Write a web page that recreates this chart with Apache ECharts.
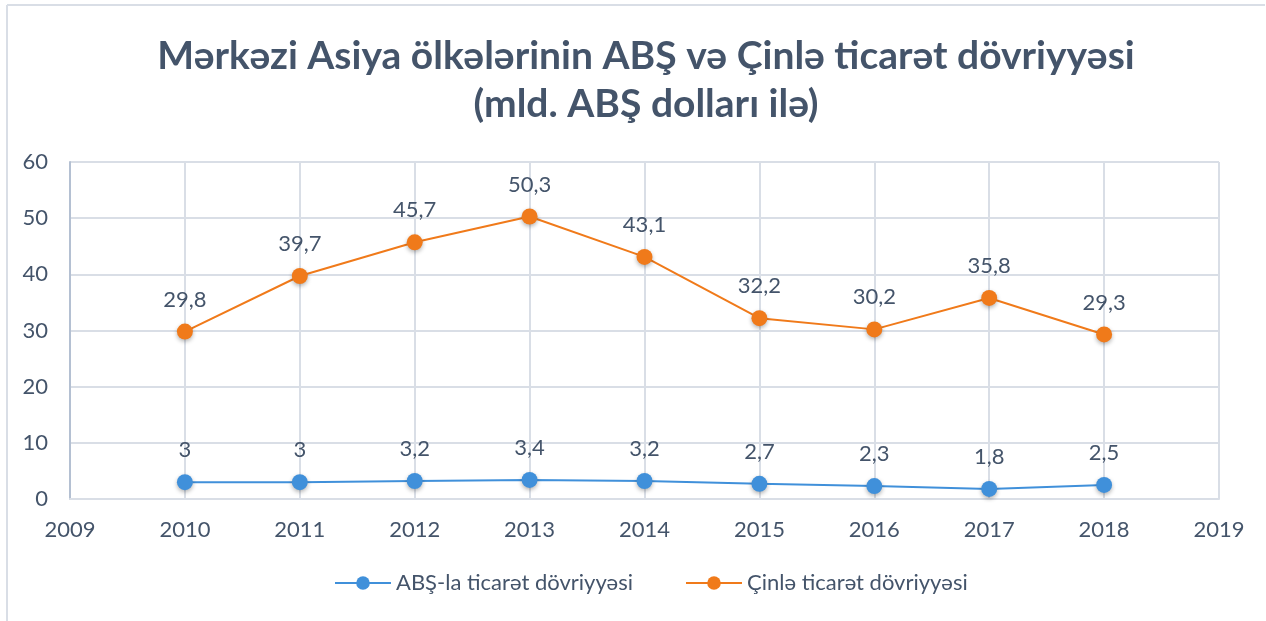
<!DOCTYPE html>
<html>
<head>
<meta charset="utf-8">
<script src="https://cdn.jsdelivr.net/npm/echarts@6/dist/echarts.min.js"></script>
<style>html,body{margin:0;padding:0;background:#fff}#c{width:1266px;height:621px}</style>
</head>
<body>
<div id="c"></div>
<script>
const years = [2010, 2011, 2012, 2013, 2014, 2015, 2016, 2017, 2018];
const usaTrade = [3, 3, 3.2, 3.4, 3.2, 2.7, 2.3, 1.8, 2.5];
const chinaTrade = [29.8, 39.7, 45.7, 50.3, 43.1, 32.2, 30.2, 35.8, 29.3];
const seriesNames = ['ABŞ-la ticarət dövriyyəsi', 'Çinlə ticarət dövriyyəsi'];
const titleText = 'Mərkəzi Asiya ölkələrinin ABŞ və Çinlə ticarət dövriyyəsi\n(mld. ABŞ dolları ilə)';

const textColor = '#44546A';
const gridColor = '#D9DEE6';
const font = 'Lato, "Open Sans", sans-serif';

const chart = echarts.init(document.getElementById('c'), null, {renderer: 'canvas'});
const fmt = p => String(p.value[1]).replace('.', ',');
function mkSeries(name, vals, color) {
  return {
    name: name,
    type: 'line',
    data: years.map((y, i) => [y, vals[i]]),
    symbol: 'circle',
    symbolSize: 16,
    lineStyle: {color: color, width: 2},
    itemStyle: {color: color, shadowColor: 'rgba(0,0,0,0.3)', shadowBlur: 4, shadowOffsetY: 2},
    label: {show: true, position: 'top', distance: 13, formatter: fmt,
      color: textColor, fontSize: 22, fontFamily: font},
    emphasis: {disabled: true},
    animation: false
  };
}
chart.setOption({
  animation: false,
  title: {
    text: titleText, left: 641, textAlign: 'center', top: 27,
    textStyle: {color: textColor, fontSize: 39, fontWeight: 'bold', fontFamily: font, lineHeight: 48}
  },
  grid: {left: 70, right: 47, top: 162, bottom: 122},
  legend: {
    bottom: 22, left: 329, itemGap: 52, itemWidth: 56, itemHeight: 17,
    textStyle: {color: textColor, fontSize: 22, fontFamily: font},
    data: seriesNames
  },
  xAxis: {
    type: 'value', min: 2009, max: 2019, interval: 1,
    axisLine: {show: true, lineStyle: {color: gridColor, width: 2}},
    axisTick: {show: false},
    splitLine: {show: true, lineStyle: {color: gridColor, width: 2}},
    axisLabel: {color: textColor, fontSize: 22, fontFamily: font, margin: 20, formatter: v => String(v)}
  },
  yAxis: {
    type: 'value', min: 0, max: 60, interval: 10,
    axisLine: {show: true, lineStyle: {color: '#B4C0D2', width: 2}},
    axisTick: {show: false},
    splitLine: {show: true, lineStyle: {color: gridColor, width: 2}},
    axisLabel: {color: textColor, fontSize: 22, fontFamily: font, margin: 22}
  },
  graphic: [
    {type: 'line', shape: {x1: 7, y1: 5, x2: 1265, y2: 5}, style: {stroke: gridColor, lineWidth: 2}, silent: true},
    {type: 'line', shape: {x1: 7, y1: 5, x2: 7, y2: 621}, style: {stroke: gridColor, lineWidth: 2}, silent: true}
  ],
  series: [
    mkSeries(seriesNames[0], usaTrade, '#4090DA'),
    mkSeries(seriesNames[1], chinaTrade, '#F07A1A')
  ]
});
</script>
</body>
</html>
